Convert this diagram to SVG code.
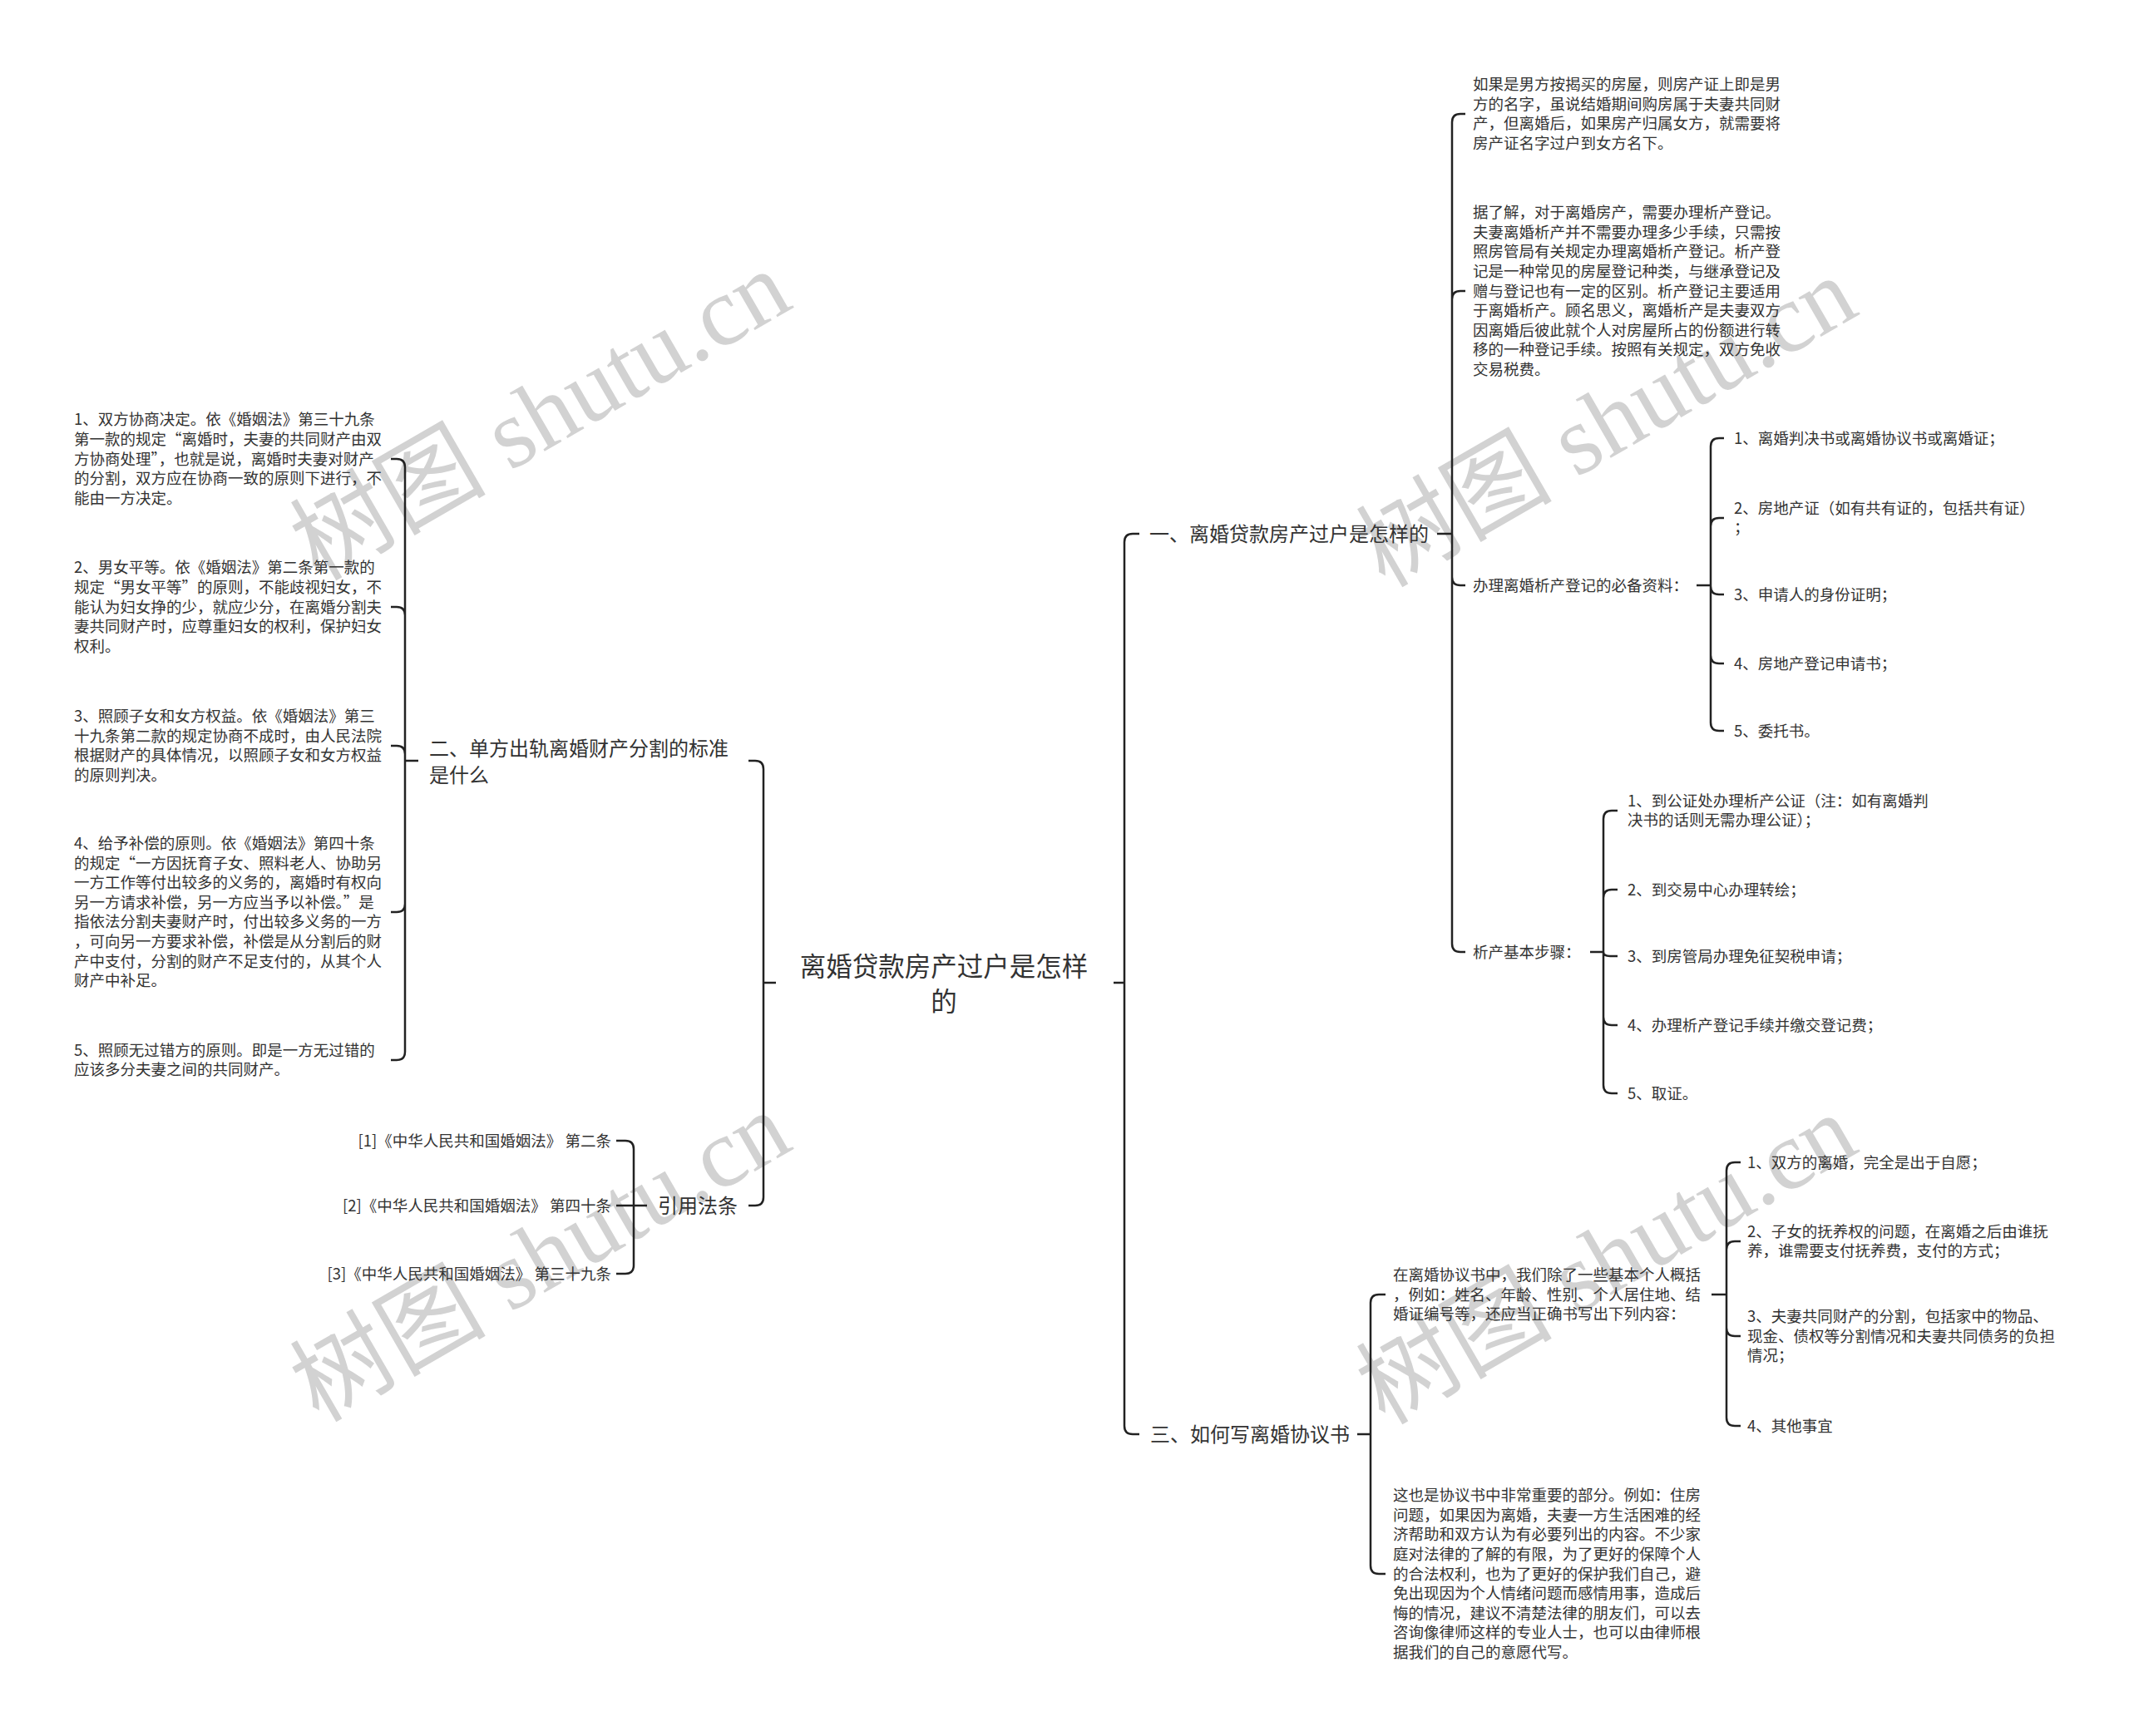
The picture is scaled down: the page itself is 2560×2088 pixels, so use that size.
<svg xmlns="http://www.w3.org/2000/svg" width="2560" height="2088" viewBox="0 0 2560 2088">
<style>
.t{font-family:"Noto Sans CJK SC","Microsoft YaHei",sans-serif;fill:#333}
.s{font-size:18.5px}
.m{font-size:24px}
.r{font-size:31.5px}
.c{fill:none;stroke:#222;stroke-width:2.5}
.wm{font-family:"Liberation Serif","Noto Sans CJK SC",serif;font-size:118px;fill:#d2d2d2}
</style>
<rect width="2560" height="2088" fill="#fff"/>
<g id="watermarks">
<text class="wm" text-anchor="middle" dominant-baseline="central" transform="translate(650,500) rotate(-30)">树图 shutu.cn</text>
<text class="wm" text-anchor="middle" dominant-baseline="central" transform="translate(1932,508) rotate(-30)">树图 shutu.cn</text>
<text class="wm" text-anchor="middle" dominant-baseline="central" transform="translate(650,1512) rotate(-30)">树图 shutu.cn</text>
<text class="wm" text-anchor="middle" dominant-baseline="central" transform="translate(1932,1515) rotate(-30)">树图 shutu.cn</text>
</g>
<g id="connectors" class="c">
<path d="M933 1182H918M918 1182V925Q918 915 908 915H900M918 1182V1440Q918 1450 908 1450H900"/>
<path d="M503 915H487M487 915V562Q487 552 477 552H470M487 915V740Q487 730 477 730H470M487 915V907Q487 897 477 897H470M487 915V1087Q487 1097 477 1097H470M487 915V1265Q487 1275 477 1275H470"/>
<path d="M778 1450H741M762 1450V1382Q762 1372 752 1372H741M762 1450V1522Q762 1532 752 1532H741"/>
<path d="M1339 1182H1352M1352 1182V652Q1352 642 1362 642H1370M1352 1182V1715Q1352 1725 1362 1725H1370"/>
<path d="M1728 642H1746M1746 642V147Q1746 137 1756 137H1762M1746 642V360Q1746 350 1756 350H1762M1746 642V694Q1746 704 1756 704H1762M1746 642V1135Q1746 1145 1756 1145H1762"/>
<path d="M2040 704H2057M2057 704V537Q2057 527 2067 527H2073M2057 704V633Q2057 623 2067 623H2073M2057 704V705Q2057 715 2067 715H2073M2057 704V788Q2057 798 2067 798H2073M2057 704V869Q2057 879 2067 879H2073"/>
<path d="M1912 1145H1928M1928 1145V985Q1928 975 1938 975H1945M1928 1145V1080Q1928 1070 1938 1070H1945M1928 1145Q1928 1150 1936 1150H1945M1928 1145V1223Q1928 1233 1938 1233H1945M1928 1145V1305Q1928 1315 1938 1315H1945"/>
<path d="M1632 1725H1648M1648 1725V1567Q1648 1557 1658 1557H1666M1648 1725V1883Q1648 1893 1658 1893H1666"/>
<path d="M2058 1557H2076M2076 1557V1408Q2076 1398 2086 1398H2093M2076 1557V1503Q2076 1493 2086 1493H2093M2076 1557V1597Q2076 1607 2086 1607H2093M2076 1557V1705Q2076 1715 2086 1715H2093"/>
</g>
<g id="root"><text class="t r" text-anchor="middle"><tspan x="1135" y="1174.3">离婚贷款房产过户是怎样</tspan><tspan x="1135" y="1216.3">的</tspan></text></g>
<g id="n1"><text class="t m" x="1382" y="650.6">一、离婚贷款房产过户是怎样的</text></g>
<g id="n1-p1"><text class="t s"><tspan x="1771" y="108.1">如果是男方按揭买的房屋，则房产证上即是男</tspan><tspan x="1771" dy="23.6">方的名字，虽说结婚期间购房属于夫妻共同财</tspan><tspan x="1771" dy="23.6">产，但离婚后，如果房产归属女方，就需要将</tspan><tspan x="1771" dy="23.6">房产证名字过户到女方名下。</tspan></text></g>
<g id="n1-p2"><text class="t s"><tspan x="1771" y="262.1">据了解，对于离婚房产，需要办理析产登记。</tspan><tspan x="1771" dy="23.6">夫妻离婚析产并不需要办理多少手续，只需按</tspan><tspan x="1771" dy="23.6">照房管局有关规定办理离婚析产登记。析产登</tspan><tspan x="1771" dy="23.6">记是一种常见的房屋登记种类，与继承登记及</tspan><tspan x="1771" dy="23.6">赠与登记也有一定的区别。析产登记主要适用</tspan><tspan x="1771" dy="23.6">于离婚析产。顾名思义，离婚析产是夫妻双方</tspan><tspan x="1771" dy="23.6">因离婚后彼此就个人对房屋所占的份额进行转</tspan><tspan x="1771" dy="23.6">移的一种登记手续。按照有关规定，双方免收</tspan><tspan x="1771" dy="23.6">交易税费。</tspan></text></g>
<g id="n1-docs"><text class="t s" x="1771" y="710.5">办理离婚析产登记的必备资料：</text></g>
<g id="n1-docs-1"><text class="t s" x="2085" y="533.5">1、离婚判决书或离婚协议书或离婚证；</text></g>
<g id="n1-docs-2"><text class="t s"><tspan x="2085" y="617.7">2、房地产证（如有共有证的，包括共有证）</tspan><tspan x="2085" dy="23.6">；</tspan></text></g>
<g id="n1-docs-3"><text class="t s" x="2085" y="721.5">3、申请人的身份证明；</text></g>
<g id="n1-docs-4"><text class="t s" x="2085" y="804.5">4、房地产登记申请书；</text></g>
<g id="n1-docs-5"><text class="t s" x="2085" y="885.5">5、委托书。</text></g>
<g id="n1-steps"><text class="t s" x="1771" y="1151.5">析产基本步骤：</text></g>
<g id="n1-steps-1"><text class="t s"><tspan x="1957" y="969.7">1、到公证处办理析产公证（注：如有离婚判</tspan><tspan x="1957" dy="23.6">决书的话则无需办理公证）；</tspan></text></g>
<g id="n1-steps-2"><text class="t s" x="1957" y="1076.5">2、到交易中心办理转绘；</text></g>
<g id="n1-steps-3"><text class="t s" x="1957" y="1156.5">3、到房管局办理免征契税申请；</text></g>
<g id="n1-steps-4"><text class="t s" x="1957" y="1239.5">4、办理析产登记手续并缴交登记费；</text></g>
<g id="n1-steps-5"><text class="t s" x="1957" y="1321.5">5、取证。</text></g>
<g id="n3"><text class="t m" x="1383" y="1733.6">三、如何写离婚协议书</text></g>
<g id="n3-p1"><text class="t s"><tspan x="1675" y="1539.9">在离婚协议书中，我们除了一些基本个人概括</tspan><tspan x="1675" dy="23.6">，例如：姓名、年龄、性别、个人居住地、结</tspan><tspan x="1675" dy="23.6">婚证编号等，还应当正确书写出下列内容：</tspan></text></g>
<g id="n3-p1-1"><text class="t s" x="2101" y="1404.5">1、双方的离婚，完全是出于自愿；</text></g>
<g id="n3-p1-2"><text class="t s"><tspan x="2101" y="1487.7">2、子女的抚养权的问题，在离婚之后由谁抚</tspan><tspan x="2101" dy="23.6">养，谁需要支付抚养费，支付的方式；</tspan></text></g>
<g id="n3-p1-3"><text class="t s"><tspan x="2101" y="1589.9">3、夫妻共同财产的分割，包括家中的物品、</tspan><tspan x="2101" dy="23.6">现金、债权等分割情况和夫妻共同债务的负担</tspan><tspan x="2101" dy="23.6">情况；</tspan></text></g>
<g id="n3-p1-4"><text class="t s" x="2101" y="1721.5">4、其他事宜</text></g>
<g id="n3-p2"><text class="t s"><tspan x="1675" y="1805.1">这也是协议书中非常重要的部分。例如：住房</tspan><tspan x="1675" dy="23.6">问题，如果因为离婚，夫妻一方生活困难的经</tspan><tspan x="1675" dy="23.6">济帮助和双方认为有必要列出的内容。不少家</tspan><tspan x="1675" dy="23.6">庭对法律的了解的有限，为了更好的保障个人</tspan><tspan x="1675" dy="23.6">的合法权利，也为了更好的保护我们自己，避</tspan><tspan x="1675" dy="23.6">免出现因为个人情绪问题而感情用事，造成后</tspan><tspan x="1675" dy="23.6">悔的情况，建议不清楚法律的朋友们，可以去</tspan><tspan x="1675" dy="23.6">咨询像律师这样的专业人士，也可以由律师根</tspan><tspan x="1675" dy="23.6">据我们的自己的意愿代写。</tspan></text></g>
<g id="n2"><text class="t m"><tspan x="516" y="908.6">二、单方出轨离婚财产分割的标准</tspan><tspan x="516" y="940.6">是什么</tspan></text></g>
<g id="n2-1"><text class="t s"><tspan x="89" y="511.3">1、双方协商决定。依《婚姻法》第三十九条</tspan><tspan x="89" dy="23.6">第一款的规定“离婚时，夫妻的共同财产由双</tspan><tspan x="89" dy="23.6">方协商处理”，也就是说，离婚时夫妻对财产</tspan><tspan x="89" dy="23.6">的分割，双方应在协商一致的原则下进行，不</tspan><tspan x="89" dy="23.6">能由一方决定。</tspan></text></g>
<g id="n2-2"><text class="t s"><tspan x="89" y="689.3">2、男女平等。依《婚姻法》第二条第一款的</tspan><tspan x="89" dy="23.6">规定“男女平等”的原则，不能歧视妇女，不</tspan><tspan x="89" dy="23.6">能认为妇女挣的少，就应少分，在离婚分割夫</tspan><tspan x="89" dy="23.6">妻共同财产时，应尊重妇女的权利，保护妇女</tspan><tspan x="89" dy="23.6">权利。</tspan></text></g>
<g id="n2-3"><text class="t s"><tspan x="89" y="868.1">3、照顾子女和女方权益。依《婚姻法》第三</tspan><tspan x="89" dy="23.6">十九条第二款的规定协商不成时，由人民法院</tspan><tspan x="89" dy="23.6">根据财产的具体情况，以照顾子女和女方权益</tspan><tspan x="89" dy="23.6">的原则判决。</tspan></text></g>
<g id="n2-4"><text class="t s"><tspan x="89" y="1020.9">4、给予补偿的原则。依《婚姻法》第四十条</tspan><tspan x="89" dy="23.6">的规定“一方因抚育子女、照料老人、协助另</tspan><tspan x="89" dy="23.6">一方工作等付出较多的义务的，离婚时有权向</tspan><tspan x="89" dy="23.6">另一方请求补偿，另一方应当予以补偿。”是</tspan><tspan x="89" dy="23.6">指依法分割夫妻财产时，付出较多义务的一方</tspan><tspan x="89" dy="23.6">，可向另一方要求补偿，补偿是从分割后的财</tspan><tspan x="89" dy="23.6">产中支付，分割的财产不足支付的，从其个人</tspan><tspan x="89" dy="23.6">财产中补足。</tspan></text></g>
<g id="n2-5"><text class="t s"><tspan x="89" y="1269.7">5、照顾无过错方的原则。即是一方无过错的</tspan><tspan x="89" dy="23.6">应该多分夫妻之间的共同财产。</tspan></text></g>
<g id="n4"><text class="t m" x="791" y="1458.6">引用法条</text></g>
<g id="n4-1"><text class="t s" x="735" y="1378.5" text-anchor="end">[1]《中华人民共和国婚姻法》 第二条</text></g>
<g id="n4-2"><text class="t s" x="735" y="1456.5" text-anchor="end">[2]《中华人民共和国婚姻法》 第四十条</text></g>
<g id="n4-3"><text class="t s" x="735" y="1538.5" text-anchor="end">[3]《中华人民共和国婚姻法》 第三十九条</text></g>
</svg>
